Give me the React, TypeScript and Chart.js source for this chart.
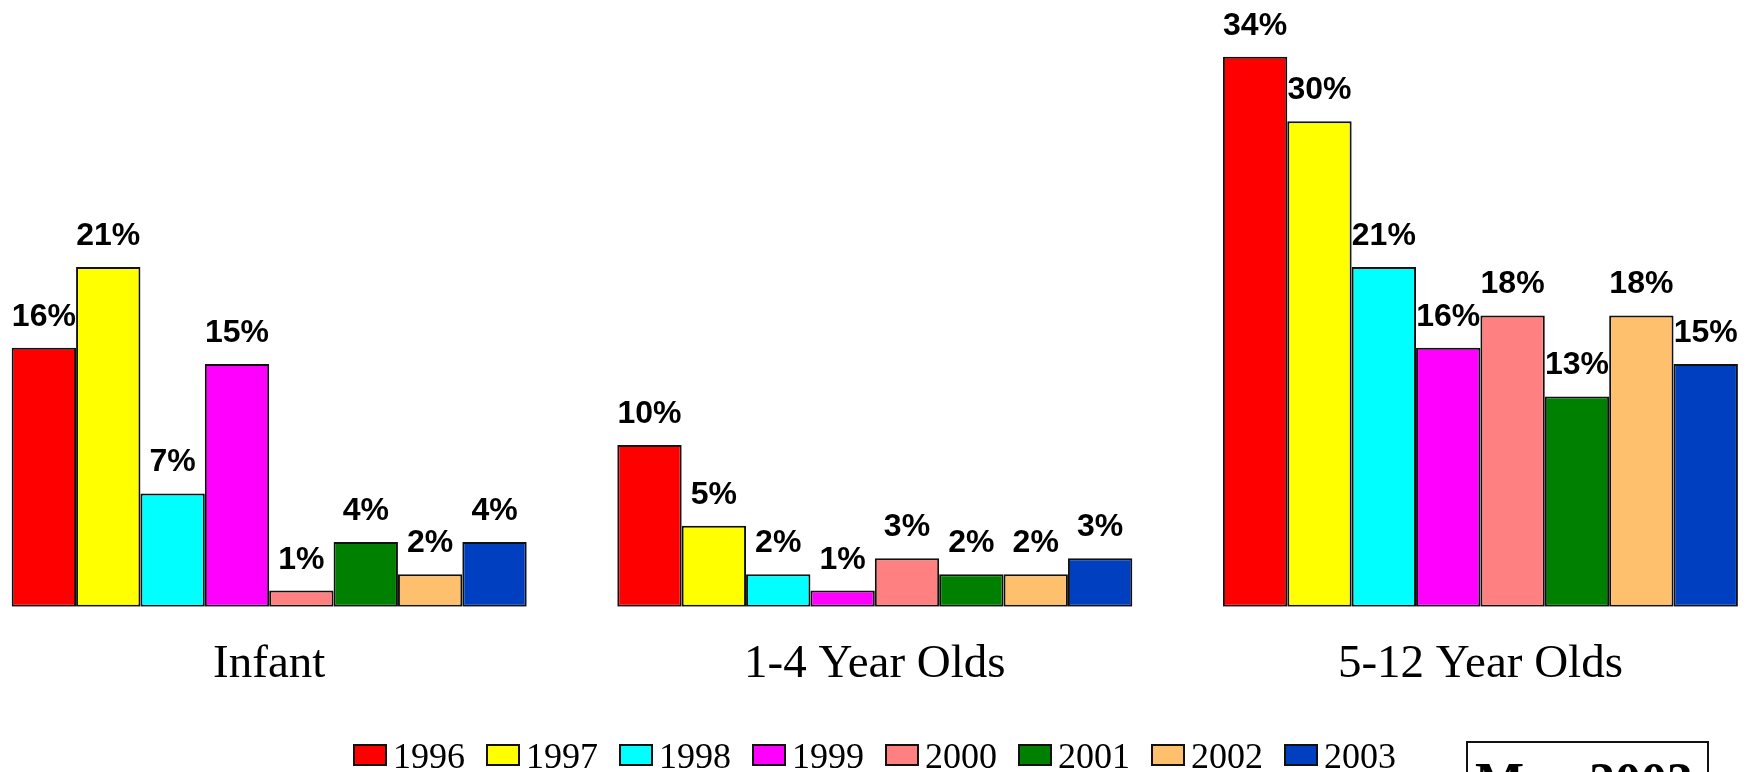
import React, { useEffect, useRef } from "react";
import { Chart, registerables } from "chart.js";

Chart.register(...registerables);

const categories = ["Infant", "1-4 Year Olds", "5-12 Year Olds"];
const years = ["1996", "1997", "1998", "1999", "2000", "2001", "2002", "2003"];

const v1996 = [16, 10, 34];
const v1997 = [21, 5, 30];
const v1998 = [7, 2, 21];
const v1999 = [15, 1, 16];
const v2000 = [1, 3, 18];
const v2001 = [4, 2, 13];
const v2002 = [2, 2, 18];
const v2003 = [4, 3, 15];

const seriesValues = [v1996, v1997, v1998, v1999, v2000, v2001, v2002, v2003];

const colors = [
  "#FF0000",
  "#FFFF00",
  "#00FFFF",
  "#FF00FF",
  "#FF8080",
  "#008000",
  "#FFC06E",
  "#0040C0",
];

const noteText = "May 2003";

const overlayPlugin = {
  id: "overlay",
  afterDatasetsDraw(chart: any) {
    const ctx = chart.ctx as CanvasRenderingContext2D;
    ctx.save();
    ctx.fillStyle = "#000";
    ctx.textAlign = "center";
    ctx.textBaseline = "alphabetic";

    // value labels
    ctx.font = 'bold 32px "Liberation Sans", Arial, sans-serif';
    chart.data.datasets.forEach((ds: any, di: number) => {
      const meta = chart.getDatasetMeta(di);
      meta.data.forEach((bar: any, i: number) => {
        const v = ds.data[i].y;
        ctx.fillText(`${v}%`, bar.x, bar.y - 22);
      });
    });

    // category labels
    const xs = chart.scales.x;
    ctx.font = '47px "Liberation Serif", "Times New Roman", serif';
    categories.forEach((c, i) => {
      ctx.fillText(c, xs.getPixelForValue(i), 677);
    });

    // legend
    ctx.font = '36px "Liberation Serif", "Times New Roman", serif';
    ctx.textAlign = "left";
    const boxW = 34;
    const boxH = 22;
    const gapBoxText = 6;
    const itemGap = 21;
    const widths = years.map((y) => ctx.measureText(y).width);
    const total =
      widths.reduce((a, w) => a + boxW + gapBoxText + w, 0) + itemGap * (years.length - 1);
    let x = chart.width / 2 - total / 2;
    const boxTop = 744;
    years.forEach((y, i) => {
      ctx.fillStyle = colors[i];
      ctx.fillRect(x, boxTop, boxW, boxH);
      ctx.lineWidth = 2;
      ctx.strokeStyle = "#111";
      ctx.strokeRect(x + 1, boxTop + 1, boxW - 2, boxH - 2);
      ctx.fillStyle = "#000";
      ctx.fillText(y, x + boxW + gapBoxText, 768);
      x += boxW + gapBoxText + widths[i] + itemGap;
    });

    // note box (partially cut off)
    ctx.lineWidth = 2;
    ctx.strokeStyle = "#111";
    ctx.strokeRect(1467, 742, 241, 100);
    ctx.font = 'bold 52px "Liberation Serif", "Times New Roman", serif';
    ctx.textAlign = "center";
    ctx.fillText(noteText, 1584, 799);

    ctx.restore();
  },
};

export default function App() {
  const canvasRef = useRef<HTMLCanvasElement | null>(null);

  useEffect(() => {
    if (!canvasRef.current) return;
    const datasets = years.map((y, i) => ({
      label: y,
      data: seriesValues[i].map((v, ci) => ({ x: ci, y: v })),
      backgroundColor: colors[i],
      borderColor: "#111",
      borderWidth: 2,
      borderSkipped: false as const,
      categoryPercentage: 0.8504,
      barPercentage: 1,
    }));

    const chart = new Chart(canvasRef.current, {
      type: "bar",
      data: { datasets } as any,
      options: {
        responsive: false,
        animation: false,
        layout: { padding: { left: 0, right: 0, top: 0, bottom: 165.3 } },
        plugins: {
          legend: { display: false },
          tooltip: { enabled: false },
        },
        scales: {
          x: {
            type: "linear",
            min: -0.4445,
            max: 2.4435,
            offset: false,
            bounds: "data",
            display: false,
            grid: { offset: false },
            afterBuildTicks: (scale: any) => {
              scale.ticks = categories.map((_, i) => ({ value: i }));
            },
          },
          y: {
            min: 0,
            max: 37.5,
            display: false,
          },
        },
      } as any,
      plugins: [overlayPlugin],
    });
    return () => chart.destroy();
  }, []);

  return (
    <div style={{ position: "absolute", left: 0, top: 0, width: 1749, height: 772, background: "#fff" }}>
      <canvas ref={canvasRef} width={1749} height={772} />
    </div>
  );
}
